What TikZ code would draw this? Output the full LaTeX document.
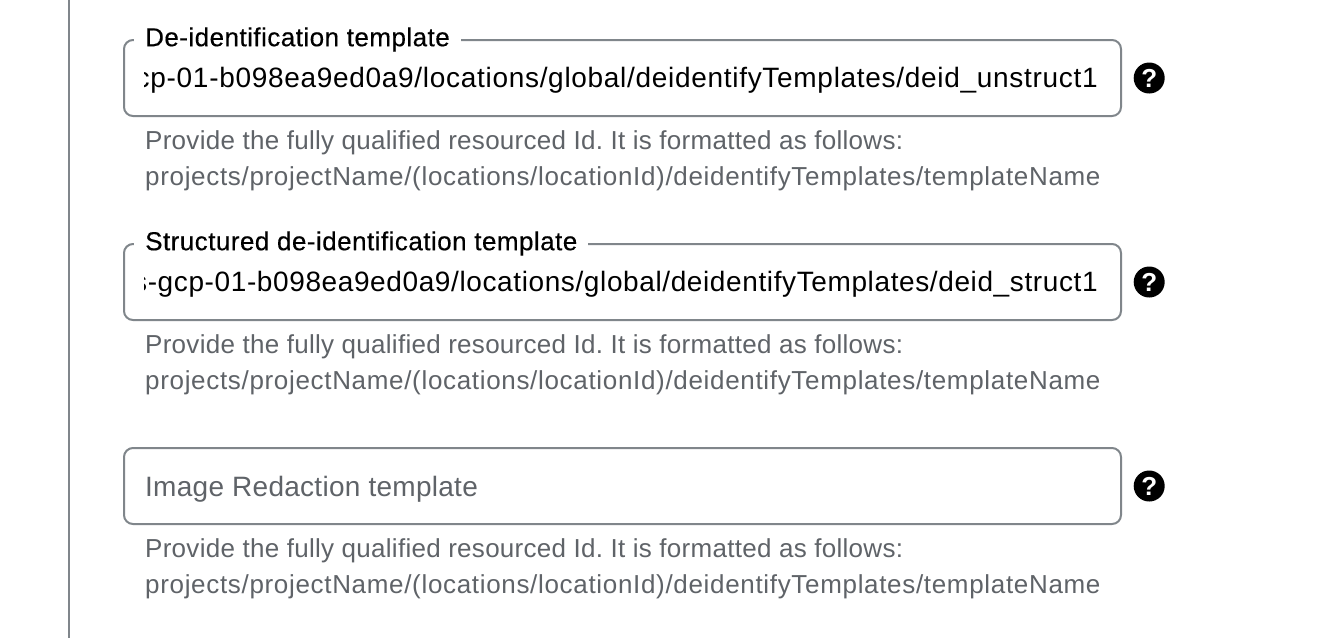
\documentclass[tikz,border=0pt]{standalone}
\usepackage{fontspec}
\setmainfont{Liberation Sans}
\newfontfamily\labelfont[FakeBold=0.35,LetterSpace=1.8]{Liberation Sans}
\newfontfamily\valuefont[LetterSpace=2.5]{Liberation Sans}
\newfontfamily\valuebfont[LetterSpace=2.2]{Liberation Sans}
\newfontfamily\holderfont[LetterSpace=1]{Liberation Sans}
\newfontfamily\hintafont[LetterSpace=1.1]{Liberation Sans}
\newfontfamily\hintbfont[LetterSpace=2.6]{Liberation Sans}
\usetikzlibrary{positioning}
\definecolor{outline}{HTML}{80868B}
\definecolor{hintgray}{HTML}{5F6368}
\newcommand{\hinttext}{{\hintafont\frenchspacing Provide the fully qualified resourced Id. It is formatted as follows:}\\{\hintbfont projects/projectName/(locations/locationId)/deidentifyTemplates/templateName}}

\tikzstyle{fieldbox} = [rectangle, rounded corners=9pt, minimum width=997pt, minimum height=76pt, draw=outline, line width=2pt, fill=white]
\tikzstyle{fieldlabel} = [fill=white, inner xsep=11pt, inner ysep=2pt, font=\labelfont\fontsize{26}{30}\selectfont, anchor=west]
\tikzstyle{fieldvalue} = [inner sep=0pt, font=\fontsize{28}{32}\selectfont, anchor=east]
\tikzstyle{holder} = [inner sep=0pt, text=hintgray, font=\holderfont\fontsize{28}{32}\selectfont, anchor=west]
\tikzstyle{hint} = [inner sep=0pt, align=left, text=hintgray, font=\fontsize{26}{35.5}\selectfont, anchor=north west]
\tikzstyle{help} = [circle, fill=black, text=white, inner sep=0pt, minimum size=31pt, font=\bfseries\fontsize{26}{26}\selectfont]

\begin{document}
\begin{tikzpicture}[x=1pt, y=-1pt, node distance=204pt]
\useasboundingbox (0,0) rectangle (1330,638);
\fill [white] (0,0) rectangle (1330,638);
\draw [outline, line width=2pt] (69,0) -- (69,638);

\node (boxone) [fieldbox] at (622.5,78) {};
\node (boxtwo) [fieldbox, below of=boxone] {};
\node (boxthree) [fieldbox, below of=boxtwo] {};

\node (labelone) [fieldlabel] at (134,39.5) {De-identification template};
\node (labeltwo) [fieldlabel] at (134,243.5) {Structured de-identification template};

\begin{scope}
\clip (144,30) rectangle (1100,330);
\node (valueone) [fieldvalue] at (1098,80.5) {\valuefont gcp-01-b098ea9ed0a9/locations/global/deidentifyTemplates/deid\_unstruct1};
\node (valuetwo) [fieldvalue] at (1098,284.5) {\valuebfont ts-gcp-01-b098ea9ed0a9/locations/global/deidentifyTemplates/deid\_struct1};
\end{scope}
\node (placeholder) [holder] at (145,489) {Image Redaction template};

\node (hintone) [hint] at (145,130.5) {\hinttext};
\node (hinttwo) [hint, below of=hintone] {\hinttext};
\node (hintthree) [hint, below of=hinttwo] {\hinttext};

\node (helpone) [help, right=11.5pt of boxone] {?};
\node (helptwo) [help, right=11.5pt of boxtwo] {?};
\node (helpthree) [help, right=11.5pt of boxthree] {?};

\end{tikzpicture}
\end{document}
